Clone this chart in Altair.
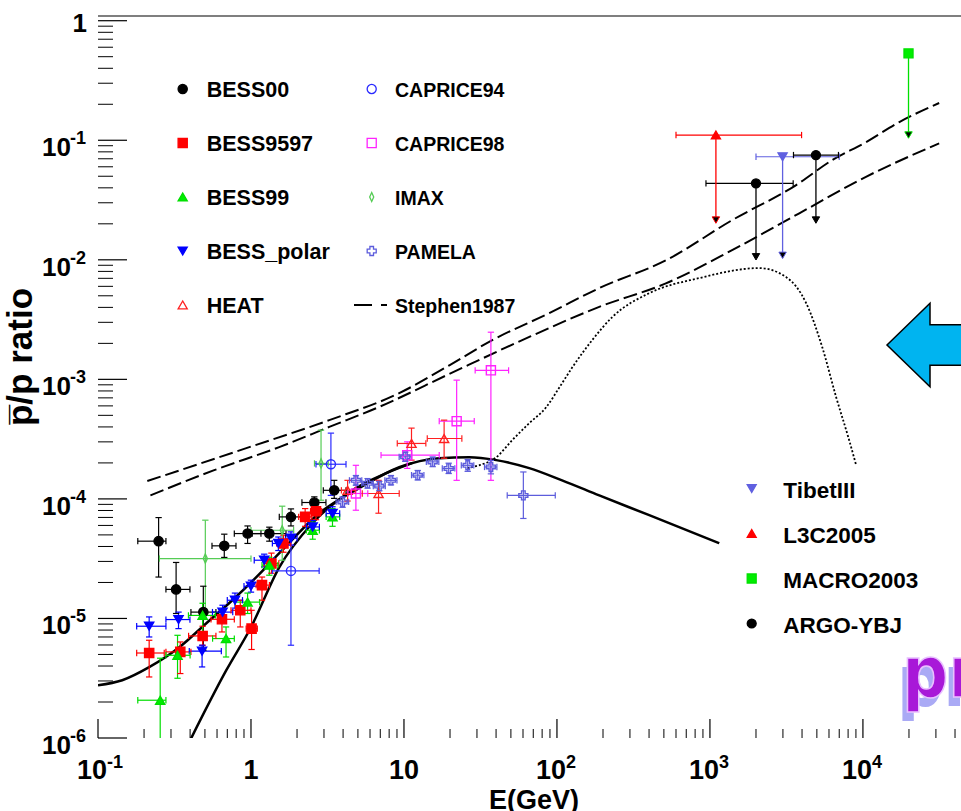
import altair as alt
import pandas as pd

# ------------------------------------------------------------------ data
BESS00_E   = [0.249, 0.324, 0.488, 0.669, 0.950, 1.318, 1.825, 2.594, 3.50]
BESS00_R   = [4.43e-5, 1.75e-5, 1.13e-5, 4.05e-5, 5.13e-5, 5.13e-5, 7.07e-5, 9.33e-5, 1.18e-4]
BESS00_ELO = [0.182, 0.278, 0.405, 0.556, 0.778, 1.019, 1.531, 2.153, 2.97]
BESS00_EHI = [0.278, 0.399, 0.590, 0.798, 1.162, 1.694, 2.165, 3.09, 4.18]
BESS00_RLO = [2.22e-5, 1.10e-5, 5.42e-6, 3.24e-5, 4.24e-5, 4.43e-5, 5.94e-5, 8.27e-5, 1.01e-4]
BESS00_RHI = [6.98e-5, 2.94e-5, 1.86e-5, 5.07e-5, 5.94e-5, 5.80e-5, 8.25e-5, 1.04e-4, 1.43e-4]

BESS9597_E   = [0.216, 0.345, 0.483, 0.646, 0.851, 1.009, 1.18, 1.36, 1.63, 2.26, 2.66]
BESS9597_R   = [5.14e-6, 5.25e-6, 7.14e-6, 9.84e-6, 1.17e-5, 8.22e-6, 1.90e-5, 2.88e-5, 4.24e-5, 7.07e-5, 7.89e-5]
BESS9597_ELO = [0.179, 0.278, 0.391, 0.548, 0.740, 0.93, 1.08, 1.22, 1.47, 2.05, 2.45]
BESS9597_EHI = [0.271, 0.405, 0.590, 0.778, 1.0, 1.10, 1.32, 1.52, 1.82, 2.5, 2.9]
BESS9597_RLO = [3.24e-6, 3.46e-6, 5.97e-6, 7.71e-6, 8.49e-6, 5.50e-6, 1.42e-5, 2.39e-5, 3.58e-5, 5.9e-5, 6.7e-5]
BESS9597_RHI = [6.57e-6, 6.36e-6, 8.61e-6, 1.17e-5, 1.42e-5, 1.17e-5, 2.22e-5, 3.52e-5, 4.97e-5, 8.3e-5, 9.3e-5]

BESS99_E   = [0.255, 0.331, 0.483, 0.687, 0.950, 1.318, 2.53, 3.41]
BESS99_R   = [2.07e-6, 4.92e-6, 1.06e-5, 6.79e-6, 1.37e-5, 2.79e-5, 5.47e-5, 7.07e-5]
BESS99_ELO = [0.182, 0.278, 0.39, 0.561, 0.79, 1.18, 2.3, 3.1]
BESS99_EHI = [0.278, 0.40, 0.585, 0.778, 1.14, 1.5, 2.8, 3.8]
BESS99_RLO = [8e-7, 3.16e-6, 7.52e-6, 4.76e-6, 1.10e-5, 2.30e-5, 4.6e-5, 5.9e-5]
BESS99_RHI = [4.65e-6, 7.23e-6, 1.34e-5, 8.49e-6, 1.63e-5, 3.25e-5, 6.4e-5, 8.3e-5]

BESSP_E   = [0.216, 0.336, 0.479, 0.652, 0.786, 1.0, 1.22, 1.51, 1.825, 2.53, 3.41]
BESSP_R   = [8.61e-6, 9.79e-6, 5.33e-6, 1.13e-5, 1.42e-5, 1.86e-5, 3.07e-5, 4.24e-5, 4.69e-5, 5.83e-5, 7.55e-5]
BESSP_ELO = [0.179, 0.278, 0.395, 0.56, 0.70, 0.90, 1.05, 1.38, 1.68, 2.3, 3.1]
BESSP_EHI = [0.278, 0.399, 0.640, 0.76, 0.88, 1.12, 1.42, 1.68, 2.0, 2.8, 3.8]
BESSP_RLO = [7.00e-6, 8.22e-6, 3.93e-6, 9.66e-6, 1.22e-5, 1.66e-5, 2.7e-5, 3.7e-5, 4.1e-5, 5.1e-5, 6.6e-5]
BESSP_RHI = [1.03e-5, 1.13e-5, 5.97e-6, 1.29e-5, 1.63e-5, 2.09e-5, 3.45e-5, 4.8e-5, 5.3e-5, 6.6e-5, 8.6e-5]

HEAT_E   = [4.28, 6.82, 11.2, 18.3]
HEAT_R   = [1.18e-4, 1.11e-4, 2.91e-4, 3.20e-4]
HEAT_ELO = [3.9, 5.34, 9.04, 14.2]
HEAT_EHI = [4.8, 9.31, 13.9, 23.9]
HEAT_RLO = [9.6e-5, 7.59e-5, 2.11e-4, 2.19e-4]
HEAT_RHI = [1.43e-4, 1.43e-4, 3.91e-4, 4.56e-4]

CAP94_E   = [1.825, 3.33]
CAP94_R   = [2.50e-5, 1.95e-4]
CAP94_ELO = [1.38, 2.66]
CAP94_EHI = [2.79, 4.18]
CAP94_RLO = [5.97e-6, 1.07e-4]
CAP94_RHI = [4.10e-5, 3.55e-4]

CAP98_E   = [4.85, 10.5, 22.1, 37.0]
CAP98_R   = [1.11e-4, 2.32e-4, 4.47e-4, 1.19e-3]
CAP98_ELO = [4.3, 7.08, 17.0, 29.2]
CAP98_EHI = [5.8, 17.0, 28.8, 48.3]
CAP98_RLO = [8.04e-5, 1.8e-4, 1.43e-4, 1.43e-4]
CAP98_RHI = [1.91e-4, 3.0e-4, 9.85e-4, 2.48e-3]

IMAX_E   = [0.503, 1.60, 2.87]
IMAX_R   = [3.17e-5, 5.47e-5, 1.98e-4]
IMAX_ELO = [0.252, 1.0, 2.6]
IMAX_EHI = [1.0, 1.9, 3.2]
IMAX_RLO = [1.10e-5, 3.07e-5, 9.75e-5]
IMAX_RHI = [6.64e-5, 8.69e-5, 3.76e-4]

PAM_E   = [3.97, 4.85, 5.78, 6.90, 8.22, 10.2, 12.3, 15.4, 19.6, 26.1, 37.0, 60.3]
PAM_R   = [9.44e-5, 1.43e-4, 1.35e-4, 1.28e-4, 1.43e-4, 2.25e-4, 1.58e-4, 2.04e-4, 1.80e-4, 1.91e-4, 1.85e-4, 1.07e-4]
PAM_ELO = [3.6, 4.4, 5.3, 6.3, 7.5, 9.3, 11.2, 14.0, 17.8, 23.7, 33.6, 47.3]
PAM_EHI = [4.35, 5.3, 6.3, 7.55, 9.0, 11.2, 13.5, 16.9, 21.5, 28.6, 40.5, 97.5]
PAM_RLO = [8.5e-5, 1.30e-4, 1.23e-4, 1.17e-4, 1.31e-4, 2.06e-4, 1.44e-4, 1.86e-4, 1.63e-4, 1.70e-4, 1.62e-4, 6.86e-5]
PAM_RHI = [1.04e-4, 1.57e-4, 1.48e-4, 1.40e-4, 1.57e-4, 2.46e-4, 1.73e-4, 2.24e-4, 1.99e-4, 2.14e-4, 2.10e-4, 1.68e-4]

# upper limits (high-energy experiments)
UL_SERIES = ["TibetIII", "L3C2005", "MACRO2003", "ARGO-YBJ", "ARGO-YBJ"]
UL_E   = [2985, 1094, 19860, 2000, 4930]
UL_R   = [0.0728, 0.1106, 0.533, 0.0436, 0.0752]
UL_END = [0.0109, 0.0215, 0.1106, 0.0106, 0.0215]
UL_ELO = [2000, 600, None, 942, 3516]
UL_EHI = [7000, 3972, None, 3500, 6920]

# model curves
UPPER_E = [0.210, 0.975, 3.25, 9.31, 19.8, 37.8, 89.1, 189, 518, 1400, 3660, 6300, 10500, 17300, 31500]
UPPER_R = [1.41e-4, 2.71e-4, 4.56e-4, 7.67e-4, 1.31e-3, 2.13e-3, 3.58e-3, 5.80e-3, 9.93e-3, 0.0215, 0.0422, 0.0683, 0.0966, 0.142, 0.205]
LOWER_E = [0.220, 0.575, 1.53, 3.25, 6.90, 19.8, 59.3, 189, 515, 1406, 3837, 10470, 31500]
LOWER_R = [1.07e-4, 1.74e-4, 2.71e-4, 4.00e-4, 5.89e-4, 1.11e-3, 2.13e-3, 4.04e-3, 6.35e-3, 0.0121, 0.0245, 0.0495, 0.0942]
DOT_E = [25.9, 31.0, 40.1, 51.0, 65.9, 85.1, 104, 126, 170, 230, 401, 851, 2099, 3155, 4256, 5420, 6683, 8128, 9036]
DOT_R = [1.81e-4, 1.91e-4, 2.23e-4, 3.10e-4, 4.30e-4, 5.85e-4, 8.61e-4, 1.26e-3, 2.13e-3, 3.32e-3, 5.26e-3, 7.03e-3,
         8.53e-3, 7.16e-3, 4.34e-3, 1.86e-3, 7.10e-4, 3.10e-4, 1.91e-4]
SOLA_E = [0.1, 0.144, 0.216, 0.340, 0.511, 0.755, 1.08, 1.60, 2.79, 5.10, 9.31, 17.0, 26.7, 40.1, 65.9, 108, 189, 401, 1151]
SOLA_R = [2.76e-6, 3.04e-6, 3.91e-6, 5.74e-6, 9.12e-6, 1.42e-5, 2.21e-5, 3.72e-5, 7.59e-5, 1.23e-4, 1.84e-4,
          2.19e-4, 2.23e-4, 2.11e-4, 1.81e-4, 1.43e-4, 1.07e-4, 7.31e-5, 4.26e-5]
SOLB_E = [0.366, 0.690, 1.00, 1.53, 2.52, 4.59, 7.66, 11.3]
SOLB_R = [7.6e-7, 3.69e-6, 8.44e-6, 2.68e-5, 6.26e-5, 1.18e-4, 1.64e-4, 1.99e-4]

# legend entries
LEG_LEFT = ["BESS00", "BESS9597", "BESS99", "BESS_polar", "HEAT"]
LEG_RIGHT = ["CAPRICE94", "CAPRICE98", "IMAX", "PAMELA"]
LEG_LINE = "Stephen1987"
LEG_BR = ["TibetIII", "L3C2005", "MACRO2003", "ARGO-YBJ"]

# axis tick labels (base and exponent written separately, ROOT style)
X_TICKS = [0.1, 1, 10, 100, 1000, 10000]
X_BASE = ["10", "1", "10", "10", "10", "10"]
X_EXP = ["-1", "", "", "2", "3", "4"]
Y_TICKS = [1e-6, 1e-5, 1e-4, 1e-3, 1e-2, 1e-1, 1]
Y_BASE = ["10", "10", "10", "10", "10", "10", "1"]
Y_EXP = ["-6", "-5", "-4", "-3", "-2", "-1", ""]
X_TITLE = "E(GeV)"
Y_TITLE = "p̅/p ratio"

# ------------------------------------------------------------------ styles
SERIES = ["BESS00", "BESS9597", "BESS99", "BESS_polar", "HEAT", "CAPRICE94", "CAPRICE98", "IMAX", "PAMELA",
          "TibetIII", "L3C2005", "MACRO2003", "ARGO-YBJ"]
STROKES = ["#000000", "#ff0000", "#00dd00", "#0000ff", "#ff2020", "#2a2aff", "#ff22ff", "#55cc55", "#5c5cdc",
           "#6060e0", "#ff0000", "#00e000", "#000000"]
FILLS = ["#000000", "#ff0000", "#00ee00", "#0000ff", "transparent", "transparent", "transparent", "transparent",
         "transparent", "#6060e0", "#ff0000", "#00ee00", "#000000"]
SHAPES = ["circle", "square", "triangle-up", "triangle-down", "triangle-up", "circle", "square",
          "M0,-1L0.45,0L0,1L-0.45,0Z", "cross", "triangle-down", "triangle-up", "square", "circle"]
SIZES = [85, 80, 85, 85, 100, 115, 115, 130, 130, 95, 95, 90, 85]

FONT = "Liberation Sans, Arial, Helvetica, sans-serif"
W, H = 863, 722
PAD_L, PAD_T = 98, 16
XMAX = 43760
YMAX = 1.095

# ------------------------------------------------------------------ tables
SERIES_DATA = {
    "BESS00": (BESS00_E, BESS00_R, BESS00_ELO, BESS00_EHI, BESS00_RLO, BESS00_RHI),
    "BESS9597": (BESS9597_E, BESS9597_R, BESS9597_ELO, BESS9597_EHI, BESS9597_RLO, BESS9597_RHI),
    "BESS99": (BESS99_E, BESS99_R, BESS99_ELO, BESS99_EHI, BESS99_RLO, BESS99_RHI),
    "BESS_polar": (BESSP_E, BESSP_R, BESSP_ELO, BESSP_EHI, BESSP_RLO, BESSP_RHI),
    "IMAX": (IMAX_E, IMAX_R, IMAX_ELO, IMAX_EHI, IMAX_RLO, IMAX_RHI),
    "CAPRICE94": (CAP94_E, CAP94_R, CAP94_ELO, CAP94_EHI, CAP94_RLO, CAP94_RHI),
    "HEAT": (HEAT_E, HEAT_R, HEAT_ELO, HEAT_EHI, HEAT_RLO, HEAT_RHI),
    "CAPRICE98": (CAP98_E, CAP98_R, CAP98_ELO, CAP98_EHI, CAP98_RLO, CAP98_RHI),
    "PAMELA": (PAM_E, PAM_R, PAM_ELO, PAM_EHI, PAM_RLO, PAM_RHI),
}
rows = []
for name, (E, R, ELO, EHI, RLO, RHI) in SERIES_DATA.items():
    for i in range(len(E)):
        rows.append(dict(series=name, E=E[i], R=R[i], Elo=ELO[i], Ehi=EHI[i], Rlo=RLO[i], Rhi=RHI[i]))
pts = pd.DataFrame(rows)
ul = pd.DataFrame(dict(series=UL_SERIES, E=UL_E, R=UL_R, Rend=UL_END, Elo=UL_ELO, Ehi=UL_EHI))

markers = pd.concat([pts[["series", "E", "R"]], ul[["series", "E", "R"]]], ignore_index=True)
xerr = pd.concat([pts[["series", "E", "R", "Elo", "Ehi"]],
                  ul.dropna(subset=["Elo"])[["series", "E", "R", "Elo", "Ehi"]]], ignore_index=True)
xcaps = xerr.melt(id_vars=["series", "R"], value_vars=["Elo", "Ehi"], value_name="Ec")
yerr = pts[["series", "E", "Rlo", "Rhi"]]
ycaps = pts.melt(id_vars=["series", "E"], value_vars=["Rlo", "Rhi"], value_name="Rc")

curves = {
    "upper": pd.DataFrame(dict(E=UPPER_E, R=UPPER_R)),
    "lower": pd.DataFrame(dict(E=LOWER_E, R=LOWER_R)),
    "dot": pd.DataFrame(dict(E=DOT_E, R=DOT_R)),
    "solA": pd.DataFrame(dict(E=SOLA_E, R=SOLA_R)),
    "solB": pd.DataFrame(dict(E=SOLB_E, R=SOLB_R)),
}

# tick positions derived from the axis decades
x_lab = pd.DataFrame(dict(v=X_TICKS, base=X_BASE, exp=X_EXP))
y_lab = pd.DataFrame(dict(v=Y_TICKS, base=Y_BASE, exp=Y_EXP))
y_minor = pd.DataFrame(dict(v=[m * 10.0 ** k for k in range(-6, 0) for m in range(2, 10)]))
x_minor = pd.DataFrame(dict(v=[m * 10.0 ** k for k in range(-1, 5) for m in range(2, 10) if m * 10.0 ** k < XMAX]))

# ------------------------------------------------------------------ scales / encodings
xs = alt.Scale(type="log", domain=[0.1, XMAX], nice=False)
ys = alt.Scale(type="log", domain=[1e-6, YMAX], nice=False)
stroke_enc = alt.Stroke("series:N", scale=alt.Scale(domain=SERIES, range=STROKES), legend=None)
fill_enc = alt.Fill("series:N", scale=alt.Scale(domain=SERIES, range=FILLS), legend=None)
shape_enc = alt.Shape("series:N", scale=alt.Scale(domain=SERIES, range=SHAPES), legend=None)
size_enc = alt.Size("series:O", scale=alt.Scale(domain=SERIES, range=SIZES), legend=None)

x_axis = alt.Axis(values=X_TICKS, labels=False, ticks=False, grid=False, title=None,
                  domainColor="#000000", domainWidth=1.5)
y_axis = alt.Axis(values=Y_TICKS, labels=False, ticks=False, grid=False, title=None,
                  domainColor="#000000", domainWidth=1.5)

TXT = dict(font=FONT, fontWeight="bold", color="#000000")
layers = []
# axis ticks drawn inward (ROOT style)
layers.append(alt.Chart(y_lab).mark_rule(color="#000000", strokeWidth=1.2).encode(
    y=alt.Y("v:Q", scale=ys, axis=None), x=alt.value(0), x2=alt.value(29)))
layers.append(alt.Chart(y_minor).mark_rule(color="#000000", strokeWidth=1).encode(
    y=alt.Y("v:Q", scale=ys, axis=None), x=alt.value(0), x2=alt.value(15)))
layers.append(alt.Chart(x_lab).mark_rule(color="#000000", strokeWidth=1.2).encode(
    x=alt.X("v:Q", scale=xs, axis=None), y=alt.value(H), y2=alt.value(H - 19)))
layers.append(alt.Chart(x_minor).mark_rule(color="#000000", strokeWidth=1).encode(
    x=alt.X("v:Q", scale=xs, axis=None), y=alt.value(H), y2=alt.value(H - 9)))

# tick labels
has_exp = alt.datum.exp != ""
no_exp = alt.datum.exp == ""
layers.append(alt.Chart(x_lab).transform_filter(no_exp).mark_text(
    align="center", baseline="top", fontSize=27, **TXT).encode(
    x=alt.X("v:Q", scale=xs, axis=None), y=alt.value(H + 20), text="base:N"))
layers.append(alt.Chart(x_lab).transform_filter(has_exp).mark_text(
    align="right", baseline="top", fontSize=27, dx=9, **TXT).encode(
    x=alt.X("v:Q", scale=xs, axis=None), y=alt.value(H + 20), text="base:N"))
layers.append(alt.Chart(x_lab).transform_filter(has_exp).mark_text(
    align="left", baseline="top", fontSize=18, dx=9, **TXT).encode(
    x=alt.X("v:Q", scale=xs, axis=None), y=alt.value(H + 16), text="exp:N"))
layers.append(alt.Chart(y_lab).transform_filter(no_exp).mark_text(
    align="right", baseline="middle", fontSize=26, dy=3, **TXT).encode(
    y=alt.Y("v:Q", scale=ys, axis=None), x=alt.value(-11), text="base:N"))
layers.append(alt.Chart(y_lab).transform_filter(has_exp).mark_text(
    align="right", baseline="middle", fontSize=26, dy=8, **TXT).encode(
    y=alt.Y("v:Q", scale=ys, axis=None), x=alt.value(-27), text="base:N"))
layers.append(alt.Chart(y_lab).transform_filter(has_exp).mark_text(
    align="left", baseline="middle", fontSize=18, dy=-1, **TXT).encode(
    y=alt.Y("v:Q", scale=ys, axis=None), x=alt.value(-28), text="exp:N"))

# axis titles
titles = pd.DataFrame(dict(t=[X_TITLE]))
layers.append(alt.Chart(titles).mark_text(align="center", baseline="top", fontSize=27, **TXT).encode(
    x=alt.value(436), y=alt.value(H + 50), text="t:N"))
ytitles = pd.DataFrame(dict(t=[Y_TITLE]))
layers.append(alt.Chart(ytitles).mark_text(align="center", baseline="middle", fontSize=35, angle=270,
                                           **TXT).encode(
    x=alt.value(-77), y=alt.value(341), text="t:N"))

# model curves
curve_styles = {
    "upper": dict(strokeDash=[14, 5], strokeWidth=2),
    "lower": dict(strokeDash=[14, 5], strokeWidth=2),
    "dot": dict(strokeDash=[2, 2], strokeWidth=1.8),
    "solA": dict(strokeWidth=2.5),
    "solB": dict(strokeWidth=2.5),
}
for key, df in curves.items():
    layers.append(alt.Chart(df).mark_line(color="#000000", clip=True, interpolate="monotone",
                                          **curve_styles[key]).encode(
        x=alt.X("E:Q", scale=xs, axis=None), y=alt.Y("R:Q", scale=ys, axis=None)))

# error bars
layers.append(alt.Chart(yerr).mark_rule(strokeWidth=1.2, clip=True).encode(
    x=alt.X("E:Q", scale=xs, axis=None), y=alt.Y("Rlo:Q", scale=ys, axis=None), y2="Rhi:Q", stroke=stroke_enc))
layers.append(alt.Chart(xerr).mark_rule(strokeWidth=1.2, clip=True).encode(
    x=alt.X("Elo:Q", scale=xs, axis=None), x2="Ehi:Q", y=alt.Y("R:Q", scale=ys, axis=None), stroke=stroke_enc))
layers.append(alt.Chart(ycaps).mark_point(shape="M-1,0L1,0", size=40, strokeWidth=1.2, opacity=1,
                                          filled=False, clip=True).encode(
    x=alt.X("E:Q", scale=xs, axis=None), y=alt.Y("Rc:Q", scale=ys, axis=None), stroke=stroke_enc))
layers.append(alt.Chart(xcaps).mark_point(shape="M0,-1L0,1", size=40, strokeWidth=1.2, opacity=1,
                                          filled=False, clip=True).encode(
    x=alt.X("Ec:Q", scale=xs, axis=None), y=alt.Y("R:Q", scale=ys, axis=None), stroke=stroke_enc))

# upper-limit arrows
layers.append(alt.Chart(ul).mark_rule(strokeWidth=1.3).encode(
    x=alt.X("E:Q", scale=xs, axis=None), y=alt.Y("R:Q", scale=ys, axis=None), y2="Rend:Q", stroke=stroke_enc))
layers.append(alt.Chart(ul).mark_point(shape="triangle-down", size=55, opacity=1, strokeWidth=1,
                                       fill="#000000").encode(
    x=alt.X("E:Q", scale=xs, axis=None), y=alt.Y("Rend:Q", scale=ys, axis=None), stroke=stroke_enc))

# markers (axis domain lines defined here)
layers.append(alt.Chart(markers).mark_point(opacity=1, strokeWidth=1.4).encode(
    x=alt.X("E:Q", scale=xs, axis=x_axis), y=alt.Y("R:Q", scale=ys, axis=y_axis),
    stroke=stroke_enc, fill=fill_enc, shape=shape_enc, size=size_enc))

# ------------------------------------------------------------------ legends, frame, annotations (pixel placed)
one = pd.DataFrame(dict(a=[0]))
layers.append(alt.Chart(one).mark_rule(color="#555555", strokeWidth=1.5).encode(
    x=alt.value(0), x2=alt.value(W), y=alt.value(0)))

ROW0, ROWSTEP = 73, 54
BR0, BRSTEP = 472.5, 45
legend_groups = [
    (LEG_LEFT, 84.7, 108.7, ROW0, ROWSTEP, 21.5),
    (LEG_RIGHT, 273.7, 297, ROW0, ROWSTEP, 19.5),
    (LEG_BR, 653.7, 685.3, BR0, BRSTEP, 22.5),
]
for names, sx, tx, y0, step, fs in legend_groups:
    for i, name in enumerate(names):
        d = pd.DataFrame(dict(series=[name]))
        yy = y0 + i * step
        layers.append(alt.Chart(d).mark_point(opacity=1, strokeWidth=1.3).encode(
            x=alt.value(sx), y=alt.value(yy), stroke=stroke_enc, fill=fill_enc, shape=shape_enc, size=size_enc))
        layers.append(alt.Chart(d).mark_text(align="left", baseline="middle", fontSize=fs, dy=2, **TXT).encode(
            x=alt.value(tx), y=alt.value(yy), text="series:N"))
# Stephen1987 entry (line sample + text)
line_d = pd.DataFrame(dict(series=[LEG_LINE]))
yy = ROW0 + 4 * ROWSTEP
layers.append(alt.Chart(line_d).mark_rule(color="#000000", strokeWidth=2.2, strokeDash=[18, 9, 6, 30]).encode(
    x=alt.value(256), x2=alt.value(289), y=alt.value(yy)))
layers.append(alt.Chart(line_d).mark_text(align="left", baseline="middle", fontSize=19.5, dy=2, **TXT).encode(
    x=alt.value(297), y=alt.value(yy), text="series:N"))

# cyan arrow annotation
ARROW = "M-1,0L0,-0.97L0,-0.47L1.6,-0.47L1.6,0.47L0,0.47L0,0.97Z"
layers.append(alt.Chart(one).mark_point(shape=ARROW, size=7400, filled=True, fill="#00b4f0", stroke="#000000",
                                        strokeWidth=1.5, opacity=1).encode(
    x=alt.value(832), y=alt.value(329)))
# "pr" word-art remnant at the right edge
PR_FONT = "Liberation Sans Narrow, DejaVu Sans Condensed, Liberation Sans"
layers.append(alt.Chart(one).mark_text(text="pr", align="left", baseline="alphabetic", font=PR_FONT,
                                       fontWeight="bold", fontSize=72, color="#aaaaf5").encode(
    x=alt.value(799), y=alt.value(690)))
layers.append(alt.Chart(one).mark_text(text="pr", align="left", baseline="alphabetic", font=PR_FONT,
                                       fontWeight="bold", fontSize=72, color="#a818d8", stroke="#e8c0ff",
                                       strokeWidth=1.5).encode(
    x=alt.value(804), y=alt.value(681)))

chart = alt.layer(*layers).properties(
    width=W, height=H, padding={"left": PAD_L, "top": PAD_T, "right": 0, "bottom": 811 - PAD_T - H},
    autosize=alt.AutoSizeParams(type="none"), background="#ffffff"
).configure_view(stroke=None)

chart.save("out.html", embed_options={"renderer": "svg", "actions": False})
